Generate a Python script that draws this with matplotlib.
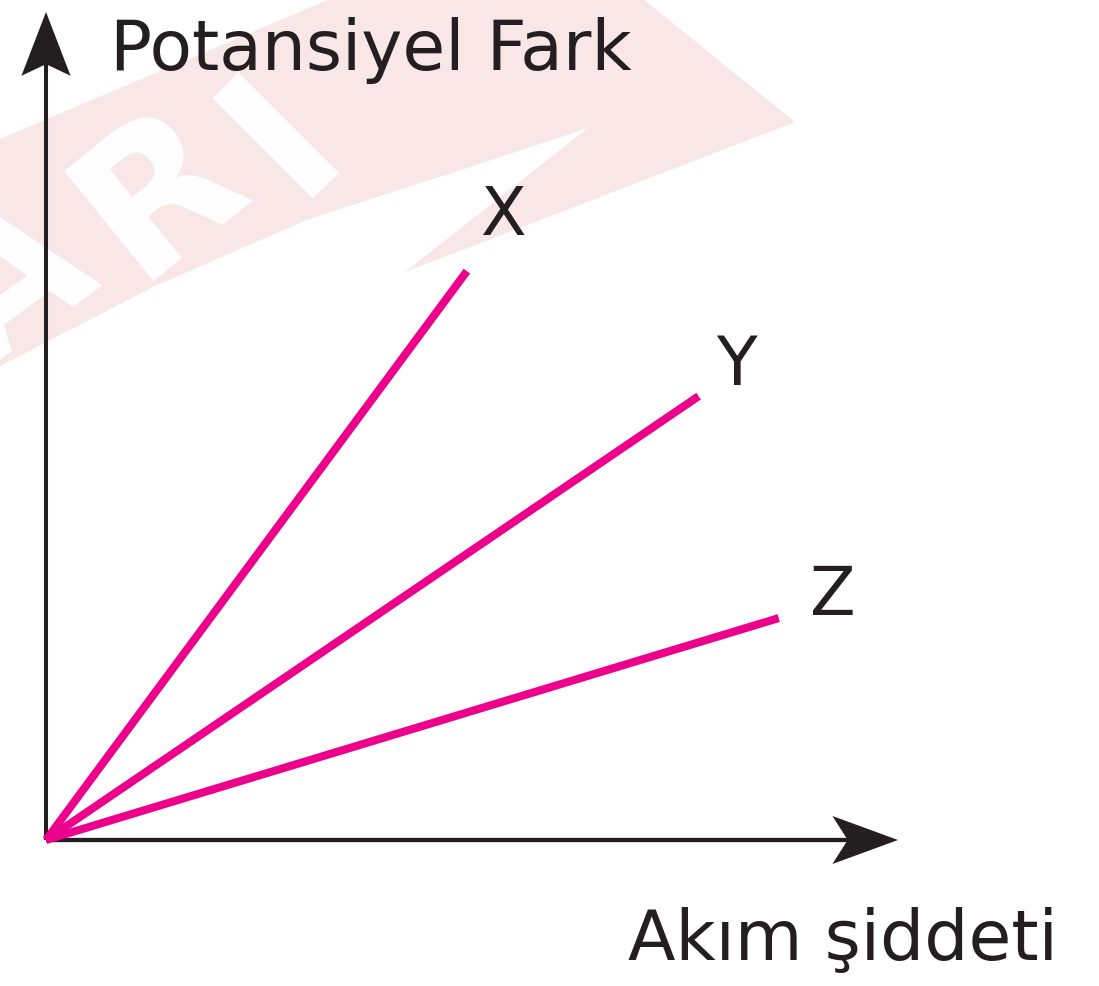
import matplotlib
matplotlib.use("Agg")
import matplotlib.pyplot as plt
from matplotlib.patches import Polygon

# ---- data ----
series_names = ["X", "Y", "Z"]
current_end = [4.94, 7.66, 8.60]     # Akım şiddeti at line end
voltage_end = [6.87, 5.36, 2.68]     # Potansiyel Fark at line end
label_pos_x = [5.36, 8.11, 9.24]
label_pos_y = [7.32, 5.51, 2.73]
xlabel_text = "Akım şiddeti"
ylabel_text = "Potansiyel Fark"

PINK = "#ec008c"
INK = "#231f20"
WM = "#f9e6e7"

W, H = 1099, 987
fig = plt.figure(figsize=(W / 100, H / 100), dpi=100)
fig.patch.set_facecolor("white")

# ---- watermark background (decoration, in pixel space) ----
bg = fig.add_axes([0, 0, 1, 1], zorder=0)
bg.set_xlim(0, W)
bg.set_ylim(H, 0)
bg.axis("off")
band = [(0, 140), (330, 0), (643, 0), (795, 123), (405, 273), (588, 129),
        (464, 170), (309, 220), (155, 287), (0, 367)]
bg.add_patch(Polygon(band, closed=True, facecolor=WM, edgecolor="none"))
for ch, cx, cy, rot in [("A", 10, 285, 36), ("R", 160, 192, 39), ("I", 283, 135, 45)]:
    bg.text(cx, cy, ch, color="white", fontsize=140, fontweight="bold",
            family="DejaVu Sans", rotation=rot, ha="center", va="center",
            rotation_mode="anchor")

# ---- main axes ----
ax = fig.add_axes([46 / W, 1 - 841 / H, 852 / W, 828 / H], zorder=1)
ax.set_xlim(0, 10)
ax.set_ylim(0, 10)
ax.axis("off")

# axis lines
ax.plot([0, 9.41], [0, 0], color=INK, lw=3.1, solid_capstyle="butt", clip_on=False, zorder=2)
ax.plot([0, 0], [0, 9.37], color=INK, lw=2.9, solid_capstyle="butt", clip_on=False, zorder=2)
ax.add_patch(Polygon([(10, 0), (9.23, 0.29), (9.41, 0), (9.23, -0.29)],
                     closed=True, facecolor=INK, edgecolor="none", clip_on=False, zorder=2))
ax.add_patch(Polygon([(0, 10), (0.288, 9.23), (0, 9.37), (-0.288, 9.23)],
                     closed=True, facecolor=INK, edgecolor="none", clip_on=False, zorder=2))

# series lines
for name, xe, ye, lx, ly in zip(series_names, current_end, voltage_end, label_pos_x, label_pos_y):
    ax.plot([0, xe], [0, ye], color=PINK, lw=5.8, solid_capstyle="butt", clip_on=False, zorder=3)
    ax.text(lx, ly, name, color=INK, fontsize=48, ha="center", va="baseline",
            family="DejaVu Sans", clip_on=False)

fig.text(110 / W, 1 - 70 / H, ylabel_text, color=INK, fontsize=50,
         ha="left", va="baseline", family="DejaVu Sans")
fig.text(1058 / W, 1 - 960 / H, xlabel_text, color=INK, fontsize=50,
         ha="right", va="baseline", family="DejaVu Sans")

fig.savefig("out.png", dpi=100, facecolor="white")
